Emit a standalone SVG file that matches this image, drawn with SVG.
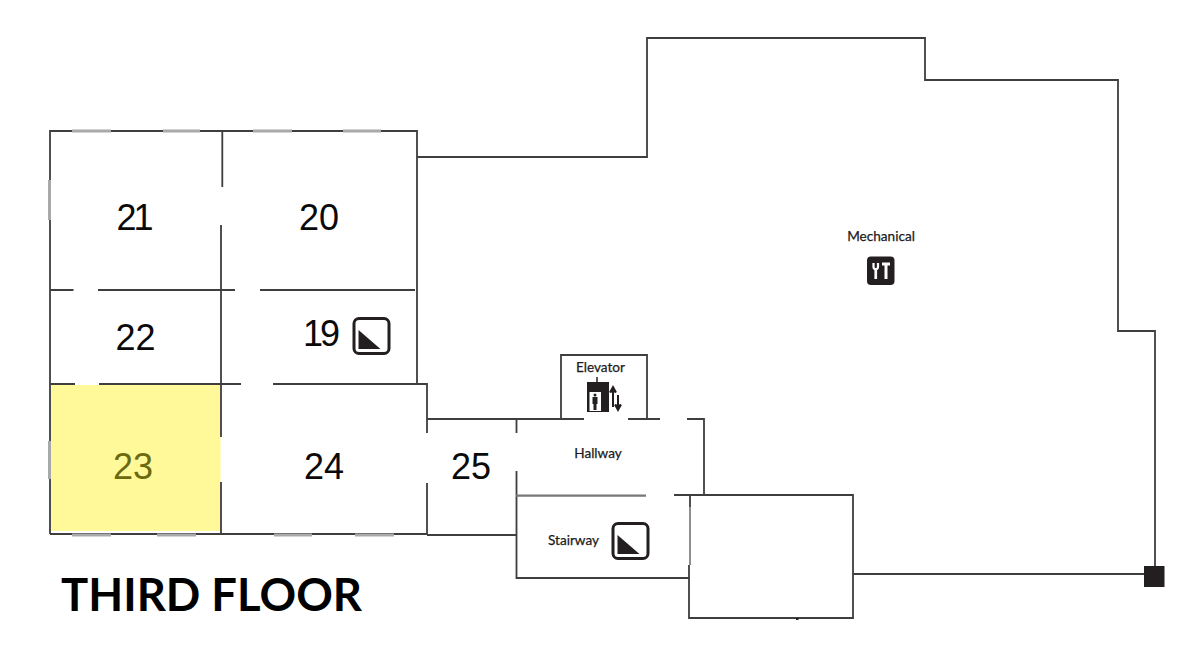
<svg xmlns="http://www.w3.org/2000/svg" width="1200" height="661" viewBox="0 0 1200 661">
<style>
.w{fill:none;stroke:#3f3d3e;stroke-width:1.8}
.g{fill:none;stroke:#a9a9ab;stroke-width:3}
.n{font:36px "Liberation Sans",Arial,sans-serif;fill:#0a0a0a;text-anchor:middle}
.l{font:13.6px "Lato","Liberation Sans",sans-serif;fill:#1d1b1c;stroke:#1d1b1c;stroke-width:.25;text-anchor:middle}
.t{font:bold 45.500px "Lato","Liberation Sans",sans-serif;fill:#000}
</style>
<defs>
<g id="stair"><rect x="1.500" y="1.500" width="35" height="35" rx="5" fill="#fff" stroke="#231f20" stroke-width="3"/><path d="M6 13V32H28Z" fill="#231f20"/></g>
</defs>
<rect width="1200" height="661" fill="#fff"/>
<rect id="room-23-fill" x="51" y="385" width="169.500" height="146" fill="#fff99a"/>
<g id="connectors">
<path class="w" d="M50 534V131H417V384M222.300 131V187M221 225V437M221 482V534"/>
<path class="w" d="M50 290H73.500M98 290H235M260 290H415"/>
<path class="w" d="M50 384H75M99 384H241M273 384H427V433M427 483V535M50 534H427"/>
<path class="w" d="M417 157H647V38H925V80H1118V331H1155V575M853 574H1145"/>
<path class="w" d="M427 419H584M628 419H660M687 419H704V495M561 419V355H647V419"/>
<path class="w" d="M516.500 419V433M516.500 471V579M427 535H516.500M516 578H690"/>
<path class="w" d="M674 495H853V618H689V578V565M690 495V507"/>
<path d="M516 495.700H646" fill="none" stroke="#777" stroke-width="2.200"/>
<path class="g" d="M72 131H111M163 131H200M253 131H292M343 131H381M49.500 180V220M49.500 441V479M72 535H111M157 535H196M274 535H312M355 535H394"/>
<path d="M690 507V565" fill="none" stroke="#8f8f8f" stroke-width="2"/>
<rect x="796" y="618" width="2.500" height="2" fill="#231f20"/>
<rect x="1144" y="566" width="20.500" height="21" fill="#231f20"/>
</g>
<g id="room-21"><text class="n" x="133.500" y="230" style="letter-spacing:-3px">21</text></g>
<g id="room-20"><text class="n" x="319" y="230">20</text></g>
<g id="room-22"><text class="n" x="135.500" y="350">22</text></g>
<g id="room-19"><text class="n" x="320" y="346" style="letter-spacing:-3px">19</text><use href="#stair" x="352.500" y="317"/></g>
<g id="room-23"><text class="n" x="133" y="479" style="fill:#6b6a10">23</text></g>
<g id="room-24"><text class="n" x="324" y="479">24</text></g>
<g id="room-25"><text class="n" x="471" y="479">25</text></g>
<g id="elevator"><text class="l" x="600.500" y="372">Elevator</text>
<rect x="587" y="382" width="22" height="30" fill="#231f20"/><rect x="589.500" y="392" width="11.500" height="19" fill="#fff"/>
<path d="M597 377V382" stroke="#231f20" stroke-width="1.500"/>
<circle cx="595" cy="395" r="1.500" fill="#231f20"/><path d="M592.500 397H597.500V404H596.500V410H593.500V404H592.500Z" fill="#231f20"/>
<path d="M613 407V391M610 392.500L613 387L616 392.500M618 395V406M615 404.500L618 410L621 404.500" fill="#231f20" stroke="#231f20" stroke-width="2"/></g>
<g id="hallway"><text class="l" x="598" y="458">Hallway</text></g>
<g id="stairway"><text class="l" x="573.500" y="545">Stairway</text><use href="#stair" x="611.500" y="522"/></g>
<g id="mechanical"><text class="l" x="881" y="241">Mechanical</text>
<rect x="867" y="256.500" width="27.500" height="28.500" rx="4" fill="#231f20"/>
<path d="M873.500 263V267Q873.500 269 875.500 269V279M878 263V267Q878 269 876 269V279" fill="none" stroke="#fff" stroke-width="2.200"/>
<path d="M882 264H890M886 264V279" fill="none" stroke="#fff" stroke-width="3"/></g>
<g id="title"><text class="t" x="61" y="611" textLength="301" lengthAdjust="spacingAndGlyphs">THIRD FLOOR</text></g>
</svg>
